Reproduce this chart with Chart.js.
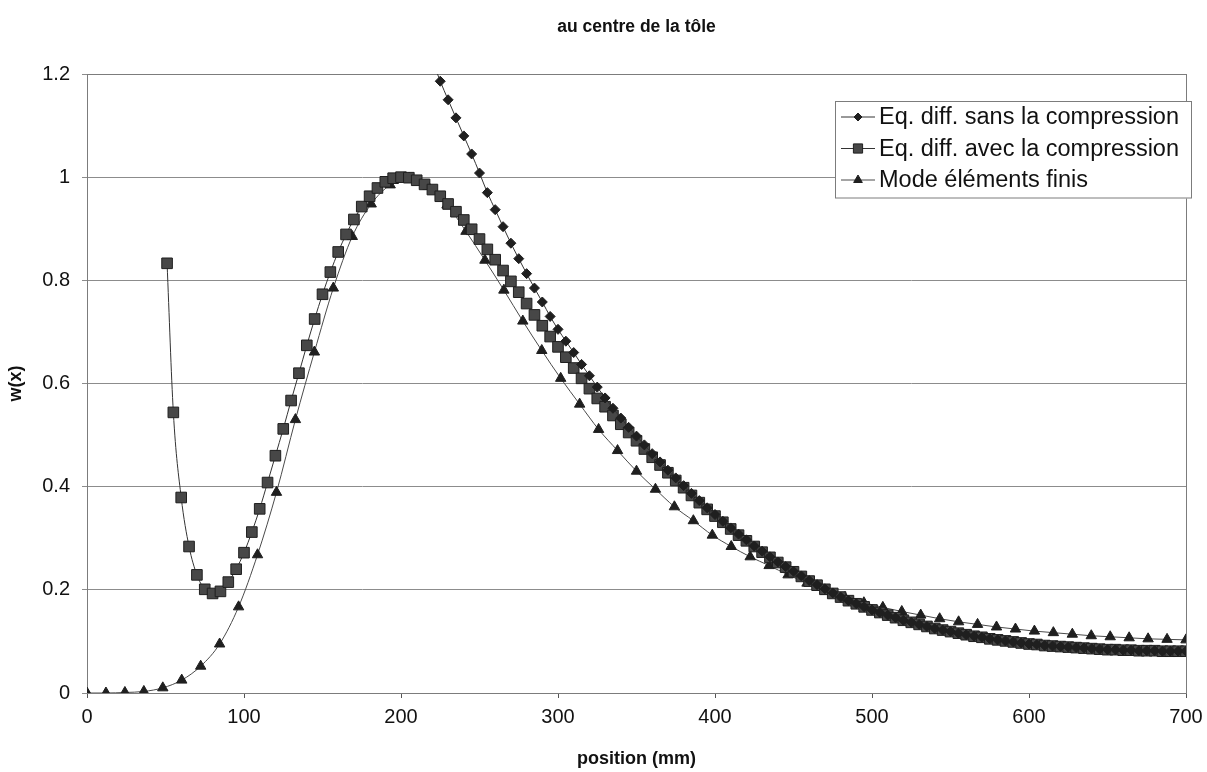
<!DOCTYPE html>
<html>
<head>
<meta charset="utf-8">
<title>au centre de la tôle</title>
<script src="https://cdn.jsdelivr.net/npm/chart.js@4.4.1/dist/chart.umd.min.js"></script>
<style>
    html, body { margin: 0; padding: 0; background: #ffffff; }
</style>
</head>
<body>
<canvas id="wChart" width="1207" height="772"></canvas>
<script>
// Positions (mm) on the 5 mm grid used by the two differential-equation curves
const positionsAvec = [
    51, 55, 60, 65, 70, 75, 80, 85, 90, 95,
    100, 105, 110, 115, 120, 125, 130, 135, 140, 145,
    150, 155, 160, 165, 170, 175, 180, 185, 190, 195,
    200, 205, 210, 215, 220, 225, 230, 235, 240, 245,
    250, 255, 260, 265, 270, 275, 280, 285, 290, 295,
    300, 305, 310, 315, 320, 325, 330, 335, 340, 345,
    350, 355, 360, 365, 370, 375, 380, 385, 390, 395,
    400, 405, 410, 415, 420, 425, 430, 435, 440, 445,
    450, 455, 460, 465, 470, 475, 480, 485, 490, 495,
    500, 505, 510, 515, 520, 525, 530, 535, 540, 545,
    550, 555, 560, 565, 570, 575, 580, 585, 590, 595,
    600, 605, 610, 615, 620, 625, 630, 635, 640, 645,
    650, 655, 660, 665, 670, 675, 680, 685, 690, 695,
    700
];

// Eq. diff. avec la compression (squares)
const avecCompression = [
    0.833, 0.544, 0.379, 0.284, 0.229, 0.201, 0.193, 0.197, 0.215, 0.240,
    0.272, 0.312, 0.357, 0.408, 0.460, 0.512, 0.567, 0.620, 0.674, 0.725,
    0.773, 0.816, 0.855, 0.889, 0.918, 0.943, 0.963, 0.979, 0.991, 0.998,
    1.000, 0.999, 0.994, 0.986, 0.976, 0.963, 0.948, 0.933, 0.917, 0.899,
    0.880, 0.860, 0.840, 0.819, 0.798, 0.777, 0.755, 0.733, 0.712, 0.691,
    0.671, 0.651, 0.630, 0.610, 0.590, 0.571, 0.555, 0.538, 0.521, 0.505,
    0.489, 0.473, 0.457, 0.442, 0.427, 0.412, 0.398, 0.383, 0.369, 0.356,
    0.343, 0.331, 0.318, 0.306, 0.295, 0.284, 0.273, 0.263, 0.253, 0.244,
    0.235, 0.226, 0.217, 0.209, 0.201, 0.193, 0.186, 0.179, 0.173, 0.167,
    0.161, 0.156, 0.151, 0.146, 0.141, 0.137, 0.133, 0.129, 0.125, 0.122,
    0.119, 0.116, 0.113, 0.110, 0.108, 0.105, 0.103, 0.101, 0.099, 0.097,
    0.095, 0.094, 0.092, 0.091, 0.090, 0.089, 0.088, 0.087, 0.086, 0.085,
    0.084, 0.084, 0.083, 0.083, 0.082, 0.082, 0.082, 0.081, 0.081, 0.081,
    0.081
];

// Eq. diff. sans la compression (diamonds) - starts above the plot at 220 mm
const positionsSans = [
    220, 225, 230, 235, 240, 245, 250, 255, 260, 265,
    270, 275, 280, 285, 290, 295, 300, 305, 310, 315,
    320, 325, 330, 335, 340, 345, 350, 355, 360, 365,
    370, 375, 380, 385, 390, 395, 400, 405, 410, 415,
    420, 425, 430, 435, 440, 445, 450, 455, 460, 465,
    470, 475, 480, 485, 490, 495, 500, 505, 510, 515,
    520, 525, 530, 535, 540, 545, 550, 555, 560, 565,
    570, 575, 580, 585, 590, 595, 600, 605, 610, 615,
    620, 625, 630, 635, 640, 645, 650, 655, 660, 665,
    670, 675, 680, 685, 690, 695, 700
];
const sansCompression = [
    1.226, 1.186, 1.150, 1.115, 1.080, 1.045, 1.008, 0.970, 0.937, 0.904,
    0.872, 0.842, 0.813, 0.785, 0.758, 0.730, 0.705, 0.682, 0.660, 0.637,
    0.615, 0.593, 0.572, 0.552, 0.533, 0.515, 0.498, 0.481, 0.464, 0.448,
    0.432, 0.417, 0.402, 0.387, 0.373, 0.359, 0.346, 0.333, 0.320, 0.308,
    0.297, 0.285, 0.275, 0.264, 0.254, 0.245, 0.236, 0.227, 0.218, 0.210,
    0.202, 0.194, 0.186, 0.179, 0.173, 0.167, 0.161, 0.156, 0.151, 0.146,
    0.141, 0.137, 0.133, 0.129, 0.125, 0.122, 0.119, 0.116, 0.113, 0.110,
    0.108, 0.105, 0.103, 0.101, 0.099, 0.097, 0.095, 0.094, 0.092, 0.091,
    0.090, 0.089, 0.088, 0.087, 0.086, 0.085, 0.084, 0.084, 0.083, 0.083,
    0.082, 0.082, 0.082, 0.081, 0.081, 0.081, 0.081
];

// Mode éléments finis (triangles) - mesh nodes
const positionsFe = [
    0, 12.07, 24.14, 36.21, 48.28, 60.34, 72.41, 84.48, 96.55, 108.62,
    120.69, 132.76, 144.83, 156.9, 168.97, 181.03, 193.1, 205.17, 217.24, 229.31,
    241.38, 253.45, 265.52, 277.59, 289.66, 301.72, 313.79, 325.86, 337.93, 350,
    362.07, 374.14, 386.21, 398.28, 410.34, 422.41, 434.48, 446.55, 458.62, 470.69,
    482.76, 494.83, 506.9, 518.97, 531.03, 543.1, 555.17, 567.24, 579.31, 591.38,
    603.45, 615.52, 627.59, 639.66, 651.72, 663.79, 675.86, 687.93, 700
];
const elementsFinis = [
    0, 0, 0.001, 0.003, 0.010, 0.025, 0.052, 0.095, 0.167, 0.268,
    0.389, 0.530, 0.661, 0.785, 0.885, 0.948, 0.985, 0.998, 0.982, 0.946,
    0.895, 0.839, 0.781, 0.721, 0.664, 0.610, 0.560, 0.511, 0.470, 0.430,
    0.395, 0.361, 0.334, 0.306, 0.284, 0.264, 0.247, 0.229, 0.213, 0.197,
    0.185, 0.175, 0.166, 0.158, 0.151, 0.144, 0.138, 0.133, 0.128, 0.124,
    0.120, 0.117, 0.114, 0.111, 0.109, 0.107, 0.105, 0.104, 0.103
];

const xTicks = [0, 100, 200, 300, 400, 500, 600, 700];
const yTicks = [0, 0.2, 0.4, 0.6, 0.8, 1, 1.2];

const FONT = '"Liberation Sans", Arial, sans-serif';
const colors = {
    text: '#111111',
    line: '#333333',
    feLine: '#4a4a4a',
    marker: '#1f1f1f',
    squareFill: '#474747',
    grid: '#8c8c8c',
    axis: '#555555',
    frame: '#7c7c7c'
};

function toPoints(xs, ys) {
    return xs.map((x, i) => ({ x: x, y: ys[i] }));
}

// Outline of the plot area (top and right sides)
const plotFrame = {
    id: 'plotFrame',
    beforeDatasetsDraw(chart) {
        const { ctx, chartArea } = chart;
        ctx.save();
        ctx.strokeStyle = colors.frame;
        ctx.lineWidth = 1;
        ctx.strokeRect(chartArea.left + 0.5, chartArea.top + 0.5,
            chartArea.right - chartArea.left, chartArea.bottom - chartArea.top);
        ctx.restore();
    }
};

// Boxed legend drawn inside the plot, top right
const insideLegend = {
    id: 'insideLegend',
    afterDraw(chart) {
        const { ctx, chartArea } = chart;
        const right = chartArea.right + 6;
        const left = right - 357;
        const top = chartArea.top + 27;
        const rowH = 31.5;
        const bottom = top + rowH * 3 + 3;

        ctx.save();
        ctx.fillStyle = '#ffffff';
        ctx.fillRect(left, top, right - left, bottom - top);
        ctx.strokeStyle = colors.frame;
        ctx.lineWidth = 1;
        ctx.strokeRect(left + 0.5, top + 0.5, right - left - 1, bottom - top - 1);

        ctx.font = '23.5px ' + FONT;
        ctx.textBaseline = 'middle';
        ctx.textAlign = 'left';

        chart.data.datasets.forEach((ds, i) => {
            const y = top + 16 + i * rowH;
            ctx.strokeStyle = ds.borderColor;
            ctx.lineWidth = 1;
            ctx.beginPath();
            ctx.moveTo(left + 6, y);
            ctx.lineTo(left + 40, y);
            ctx.stroke();

            ctx.fillStyle = ds.pointBackgroundColor;
            ctx.strokeStyle = ds.pointBorderColor;
            Chart.helpers.drawPoint(ctx, {
                pointStyle: ds.pointStyle,
                radius: ds.pointRadius - 1,
                borderWidth: 1,
                rotation: 0
            }, left + 23, y);

            ctx.fillStyle = colors.text;
            ctx.fillText(ds.label, left + 44, y + 1);
        });
        ctx.restore();
    }
};

new Chart(document.getElementById('wChart').getContext('2d'), {
    type: 'line',
    data: {
        datasets: [
            {
                label: 'Eq. diff. sans la compression',
                data: toPoints(positionsSans, sansCompression),
                borderColor: colors.line,
                borderWidth: 1,
                pointStyle: 'rectRot',
                pointRadius: 5,
                pointBackgroundColor: colors.marker,
                pointBorderColor: colors.marker,
                pointBorderWidth: 1,
                cubicInterpolationMode: 'monotone'
            },
            {
                label: 'Eq. diff. avec la compression',
                data: toPoints(positionsAvec, avecCompression),
                borderColor: colors.line,
                borderWidth: 1,
                pointStyle: 'rect',
                pointRadius: 7.5,
                pointBackgroundColor: colors.squareFill,
                pointBorderColor: colors.marker,
                pointBorderWidth: 1,
                cubicInterpolationMode: 'monotone'
            },
            {
                label: 'Mode éléments finis',
                data: toPoints(positionsFe, elementsFinis),
                borderColor: colors.feLine,
                borderWidth: 1,
                pointStyle: 'triangle',
                pointRadius: 6,
                pointBackgroundColor: colors.marker,
                pointBorderColor: colors.marker,
                pointBorderWidth: 1,
                cubicInterpolationMode: 'monotone'
            }
        ]
    },
    options: {
        responsive: false,
        animation: false,
        layout: {
            padding: { left: 0, right: 21, top: 0, bottom: 0 }
        },
        plugins: {
            legend: { display: false },
            tooltip: { enabled: false },
            title: {
                display: true,
                fullSize: false,
                text: 'au centre de la tôle',
                color: colors.text,
                font: { family: FONT, size: 17.5, weight: 'bold' },
                padding: { top: 17, bottom: 36 }
            }
        },
        scales: {
            x: {
                type: 'linear',
                min: 0,
                max: 700,
                afterBuildTicks(scale) {
                    scale.ticks = xTicks.map(v => ({ value: v }));
                },
                ticks: {
                    color: colors.text,
                    font: { family: FONT, size: 20 },
                    padding: 7,
                    maxRotation: 0,
                    callback: v => String(v)
                },
                grid: {
                    drawOnChartArea: false,
                    drawTicks: true,
                    tickLength: 5,
                    color: colors.axis
                },
                border: { display: true, color: colors.axis, width: 1 },
                title: {
                    display: true,
                    text: 'position (mm)',
                    color: colors.text,
                    font: { family: FONT, size: 18, weight: 'bold' },
                    padding: { top: 0, bottom: 2 }
                },
                afterFit(scale) {
                    scale.height = 79;
                    scale.paddingLeft = 0;
                    scale.paddingRight = 0;
                }
            },
            y: {
                type: 'linear',
                min: 0,
                max: 1.2,
                afterBuildTicks(scale) {
                    scale.ticks = yTicks.map(v => ({ value: v }));
                },
                ticks: {
                    color: colors.text,
                    font: { family: FONT, size: 20 },
                    padding: 12,
                    callback: v => String(Math.round(v * 10) / 10)
                },
                grid: {
                    color: colors.grid,
                    lineWidth: 1,
                    drawTicks: true,
                    tickLength: 5
                },
                border: { display: true, color: colors.axis, width: 1 },
                title: {
                    display: true,
                    text: 'w(x)',
                    color: colors.text,
                    font: { family: FONT, size: 18, weight: 'bold' },
                    padding: { top: 5, bottom: 0 }
                },
                afterFit(scale) {
                    scale.width = 87;
                    scale.paddingTop = 0;
                    scale.paddingBottom = 0;
                }
            }
        }
    },
    plugins: [plotFrame, insideLegend]
});
</script>
</body>
</html>
